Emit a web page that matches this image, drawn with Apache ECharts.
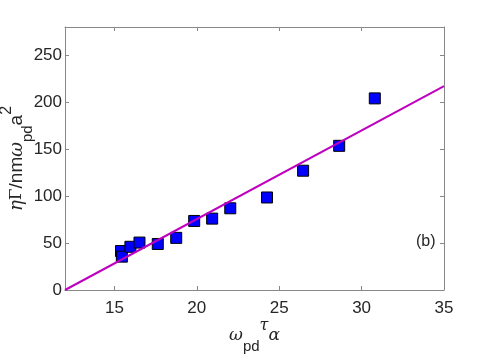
<!DOCTYPE html>
<html>
<head>
<meta charset="utf-8">
<script src="https://cdn.jsdelivr.net/npm/echarts@6/dist/echarts.min.js"></script>
<style>
  html, body { margin: 0; padding: 0; background: #fff; }
  #main { width: 491px; height: 354px; }
</style>
</head>
<body>
<div id="main"></div>
<script>
// measured points
var xVals = [15.4, 15.45, 15.97, 16.52, 17.63, 18.75, 19.84, 20.93, 22.03, 24.26, 26.45, 28.64, 30.8];
var yVals = [41.5, 35.5, 46, 50.5, 49, 55.5, 73.5, 76, 87, 98.5, 127, 153.5, 204];
// fitted line ends
var fitX = [12, 35];
var fitY = [0, 217];
var xTicks = [15, 20, 25, 30, 35];
var yTicks = [0, 50, 100, 150, 200, 250];

var pts = [];
for (var i = 0; i < xVals.length; i++) pts.push([xVals[i], yVals[i]]);
var fit = [];
for (var j = 0; j < fitX.length; j++) fit.push([fitX[j], fitY[j]]);

var axisCol = '#888888';
var txtCol = '#262626';
var font = 'Liberation Sans';

// y label: ηΓ/nmω_pd a^2
var yRich = {
  n: { fontSize: 19, fontFamily: font, color: txtCol, lineHeight: 22 },
  g: { fontSize: 18, fontFamily: 'DejaVu Serif', fontStyle: 'italic', color: txtCol, lineHeight: 22 },
  G: { fontSize: 17, fontFamily: 'DejaVu Serif', color: txtCol, lineHeight: 22 },
  sub: { fontSize: 15, fontFamily: font, color: txtCol, verticalAlign: 'bottom', lineHeight: 30 },
  sup: { fontSize: 16, fontFamily: font, color: txtCol, verticalAlign: 'top', lineHeight: 36 }
};
// x label: ω_pd τ_α (tau sits high, like the original)
var xRich = {
  g: { fontSize: 17, fontFamily: 'DejaVu Serif', fontStyle: 'italic', color: txtCol, lineHeight: 22 },
  sub: { fontSize: 15, fontFamily: font, color: txtCol, verticalAlign: 'bottom', lineHeight: 30 },
  gup: { fontSize: 16, fontFamily: 'DejaVu Serif', fontStyle: 'italic', color: txtCol, verticalAlign: 'top', lineHeight: 36 }
};

var chart = echarts.init(document.getElementById('main'));
chart.setOption({
  backgroundColor: '#fff',
  animation: false,
  grid: { left: 65, right: 47, top: 27, bottom: 64, outerBoundsMode: 'none', containLabel: false },
  xAxis: [{
    type: 'value', min: 12, max: 35,
    name: '{g|ω}{sub|pd}{gup|τ}{g|α}',
    nameLocation: 'middle', nameGap: 28, nameMoveOverlap: false,
    nameTextStyle: { rich: xRich },
    axisLine: { lineStyle: { color: axisCol } },
    axisTick: { inside: true, length: 4, customValues: xTicks, lineStyle: { color: axisCol } },
    axisLabel: { customValues: xTicks, fontSize: 17, fontFamily: font, color: txtCol, margin: 10 },
    splitLine: { show: false }
  }, {
    type: 'value', min: 12, max: 35, position: 'top',
    axisLine: { show: true, onZero: false, lineStyle: { color: axisCol } },
    axisTick: { inside: true, length: 4, customValues: xTicks, lineStyle: { color: axisCol } },
    axisLabel: { show: false },
    splitLine: { show: false }
  }],
  yAxis: [{
    type: 'value', min: 0, max: 280,
    name: '{g|η}{G|Γ}{n|/nm}{g|ω}{sub|pd}{n|a}{sup|2}',
    nameLocation: 'middle', nameGap: 30, nameRotate: 90, nameMoveOverlap: false,
    nameTextStyle: { rich: yRich },
    axisLine: { show: true, lineStyle: { color: axisCol } },
    axisTick: { show: true, inside: true, length: 4, customValues: yTicks, lineStyle: { color: axisCol } },
    axisLabel: { customValues: yTicks, fontSize: 17, fontFamily: font, color: txtCol, margin: 3 },
    splitLine: { show: false }
  }, {
    type: 'value', min: 0, max: 280, position: 'right',
    axisLine: { show: true, onZero: false, lineStyle: { color: axisCol } },
    axisTick: { show: true, inside: true, length: 4, customValues: yTicks, lineStyle: { color: axisCol } },
    axisLabel: { show: false },
    splitLine: { show: false }
  }],
  graphic: [{
    type: 'text', left: 416, top: 234,
    style: { text: '(b)', fontSize: 16, fontFamily: font, fill: txtCol }
  }],
  series: [{
    type: 'scatter',
    data: pts,
    symbol: 'rect',
    symbolSize: 11,
    itemStyle: { color: '#0000ff', borderColor: '#000000', borderWidth: 1, opacity: 1 }
  }, {
    type: 'line',
    data: fit,
    showSymbol: false,
    lineStyle: { color: '#bf00bf', width: 2 }
  }]
});
</script>
</body>
</html>
